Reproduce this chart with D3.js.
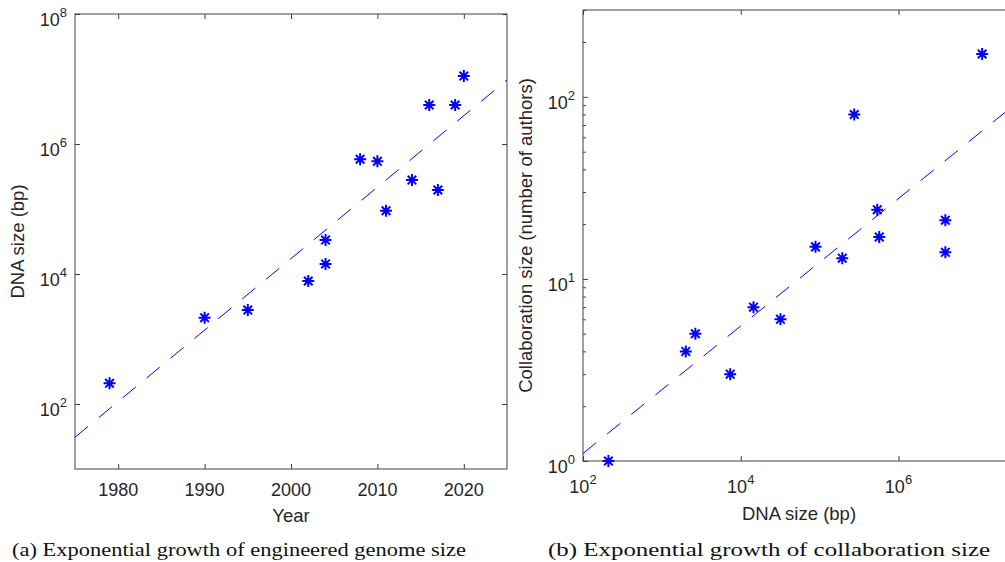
<html>
<head>
<style>
  body { margin: 0; background: #fff; }
  svg text { font-family: "Liberation Sans", Arial, Helvetica, sans-serif; fill: #262626; }
  .caption { font-family: "Liberation Serif", "DejaVu Serif", serif !important; fill: #111 !important; }
  .axis line { stroke: #404040; stroke-width: 1; }
  .axis path { display: none; }
  .frame { fill: none; stroke: #404040; stroke-width: 1; }
</style>
<script src="https://d3js.org/d3.v7.min.js"></script>
</head>
<body>
<svg width="1005" height="562"></svg>
<script>
// panel (a): engineered genome size by year
const yearA = [1979, 1990, 1995, 2002, 2004, 2004, 2008, 2010, 2011, 2014, 2016, 2017, 2019, 2020];
const sizeA = [208, 2130, 2790, 7800, 14300, 33300, 582000, 542000, 94000, 279000, 3980000, 196000, 3980000, 11100000];
const fitYearA = [1975, 2025];
const fitSizeA = [30.8, 9660000];
const yearTicksA = [1980, 1990, 2000, 2010, 2020];
const sizeTicksA = [1e2, 1e4, 1e6, 1e8];

// panel (b): collaboration size against DNA size
const sizeB = [210, 2010, 2660, 7350, 14500, 31900, 88700, 193700, 275000, 538000, 570000, 3930000, 3930000, 11500000];
const authorsB = [1, 4, 5, 3, 7, 6, 15, 13, 80, 24, 17, 21, 14, 172];
const fitSizeB = [1e2, 3e7];
const fitAuthorsB = [1.10, 91];
const sizeTicksB = [1e2, 1e4, 1e6];
const authorTicksB = [1, 10, 100];
const authorMinorB = [2, 3, 4, 5, 6, 7, 8, 9, 20, 30, 40, 50, 60, 70, 80, 90, 200, 300];

const captions = ["(a) Exponential growth of engineered genome size", "(b) Exponential growth of collaboration size"];

const svg = d3.select("svg");
const star = "M-6,0L6,0M0,-6L0,6M-4.3,-4.3L4.3,4.3M-4.3,4.3L4.3,-4.3";

function pow10(sel, v) {
  const e = Math.round(Math.log10(v));
  sel.append("tspan").text("10");
  sel.append("tspan").attr("dy", -9).attr("font-size", 13).text(e);
}

function panel(o) {
  const g = svg.append("g");
  const [x0, x1] = o.xs.range();
  const [y0, y1] = o.ys.range();

  g.append("g").attr("class", "axis").attr("transform", "translate(0," + y0 + ")")
    .call(d3.axisBottom(o.xs).tickValues(o.xTicks).tickSizeInner(-5).tickSizeOuter(0).tickFormat(""));
  g.append("g").attr("class", "axis").attr("transform", "translate(0," + y1 + ")")
    .call(d3.axisTop(o.xs).tickValues(o.xTicks).tickSizeInner(-5).tickSizeOuter(0).tickFormat(""));
  g.append("g").attr("class", "axis").attr("transform", "translate(" + x0 + ",0)")
    .call(d3.axisLeft(o.ys).tickValues(o.yTicks).tickSizeInner(-5).tickSizeOuter(0).tickFormat(""));
  g.append("g").attr("class", "axis").attr("transform", "translate(" + x1 + ",0)")
    .call(d3.axisRight(o.ys).tickValues(o.yTicks).tickSizeInner(-5).tickSizeOuter(0).tickFormat(""));
  if (o.yMinor) {
    g.append("g").attr("class", "axis").attr("transform", "translate(" + x0 + ",0)")
      .call(d3.axisLeft(o.ys).tickValues(o.yMinor).tickSizeInner(-3).tickSizeOuter(0).tickFormat(""));
    g.append("g").attr("class", "axis").attr("transform", "translate(" + x1 + ",0)")
      .call(d3.axisRight(o.ys).tickValues(o.yMinor).tickSizeInner(-3).tickSizeOuter(0).tickFormat(""));
  }
  g.append("rect").attr("class", "frame")
    .attr("x", x0).attr("y", y1).attr("width", x1 - x0).attr("height", y0 - y1);

  // tick labels
  g.selectAll(".xl").data(o.xTicks).enter().append("text")
    .attr("class", "xl")
    .attr("x", d => o.xs(d))
    .attr("y", y0 + (o.xPow ? 32 : 27))
    .attr("text-anchor", "middle").attr("font-size", 18)
    .each(function(d) { o.xPow ? pow10(d3.select(this), d) : d3.select(this).text(d); });
  g.selectAll(".yl").data(o.yTicks).enter().append("text")
    .attr("class", "yl")
    .attr("x", x0 - 8)
    .attr("y", d => o.ys(d) + 12)
    .attr("text-anchor", "end").attr("font-size", 18)
    .each(function(d) { pow10(d3.select(this), d); });

  // axis titles
  g.append("text").attr("x", (x0 + x1) / 2).attr("y", o.xTitleY)
    .attr("text-anchor", "middle").attr("font-size", 18.5).text(o.xTitle);
  g.append("text").attr("transform", "translate(" + o.yTitleX + "," + (y0 + y1) / 2 + ") rotate(-90)")
    .attr("text-anchor", "middle").attr("font-size", 18.5).text(o.yTitle);

  // fit line
  const line = d3.line().x(d => o.xs(d[0])).y(d => o.ys(d[1]));
  g.append("path").datum(d3.zip(o.fitX, o.fitY))
    .attr("d", line).attr("fill", "none").attr("stroke", "#0000ff")
    .attr("stroke-width", 1).attr("stroke-dasharray", "17,14");

  // data markers
  g.selectAll(".pt").data(d3.zip(o.x, o.y)).enter().append("path")
    .attr("class", "pt")
    .attr("transform", d => "translate(" + o.xs(d[0]) + "," + o.ys(d[1]) + ")")
    .attr("d", star).attr("fill", "none").attr("stroke", "#0000ff").attr("stroke-width", 2);
}

panel({
  xs: d3.scaleLinear().domain([1975, 2025]).range([75, 507]),
  ys: d3.scaleLog().domain([10, 1e8]).range([469, 14]),
  xTicks: yearTicksA, yTicks: sizeTicksA, xPow: false,
  x: yearA, y: sizeA, fitX: fitYearA, fitY: fitSizeA,
  xTitle: "Year", xTitleY: 522, yTitle: "DNA size (bp)", yTitleX: 24
});

panel({
  xs: d3.scaleLog().domain([1e2, 3e7]).range([583, 1015]),
  ys: d3.scaleLog().domain([1, 300]).range([461, 10]),
  xTicks: sizeTicksB, yTicks: authorTicksB, yMinor: authorMinorB, xPow: true,
  x: sizeB, y: authorsB, fitX: fitSizeB, fitY: fitAuthorsB,
  xTitle: "DNA size (bp)", xTitleY: 520, yTitle: "Collaboration size (number of authors)", yTitleX: 532
});

svg.selectAll(".caption").data(captions).enter().append("text")
  .attr("class", "caption")
  .attr("x", (d, i) => i ? 548 : 12)
  .attr("y", 556)
  .attr("font-size", 19.5)
  .attr("textLength", (d, i) => i ? 442 : 454)
  .attr("lengthAdjust", "spacingAndGlyphs")
  .text(d => d);
</script>
</body>
</html>
